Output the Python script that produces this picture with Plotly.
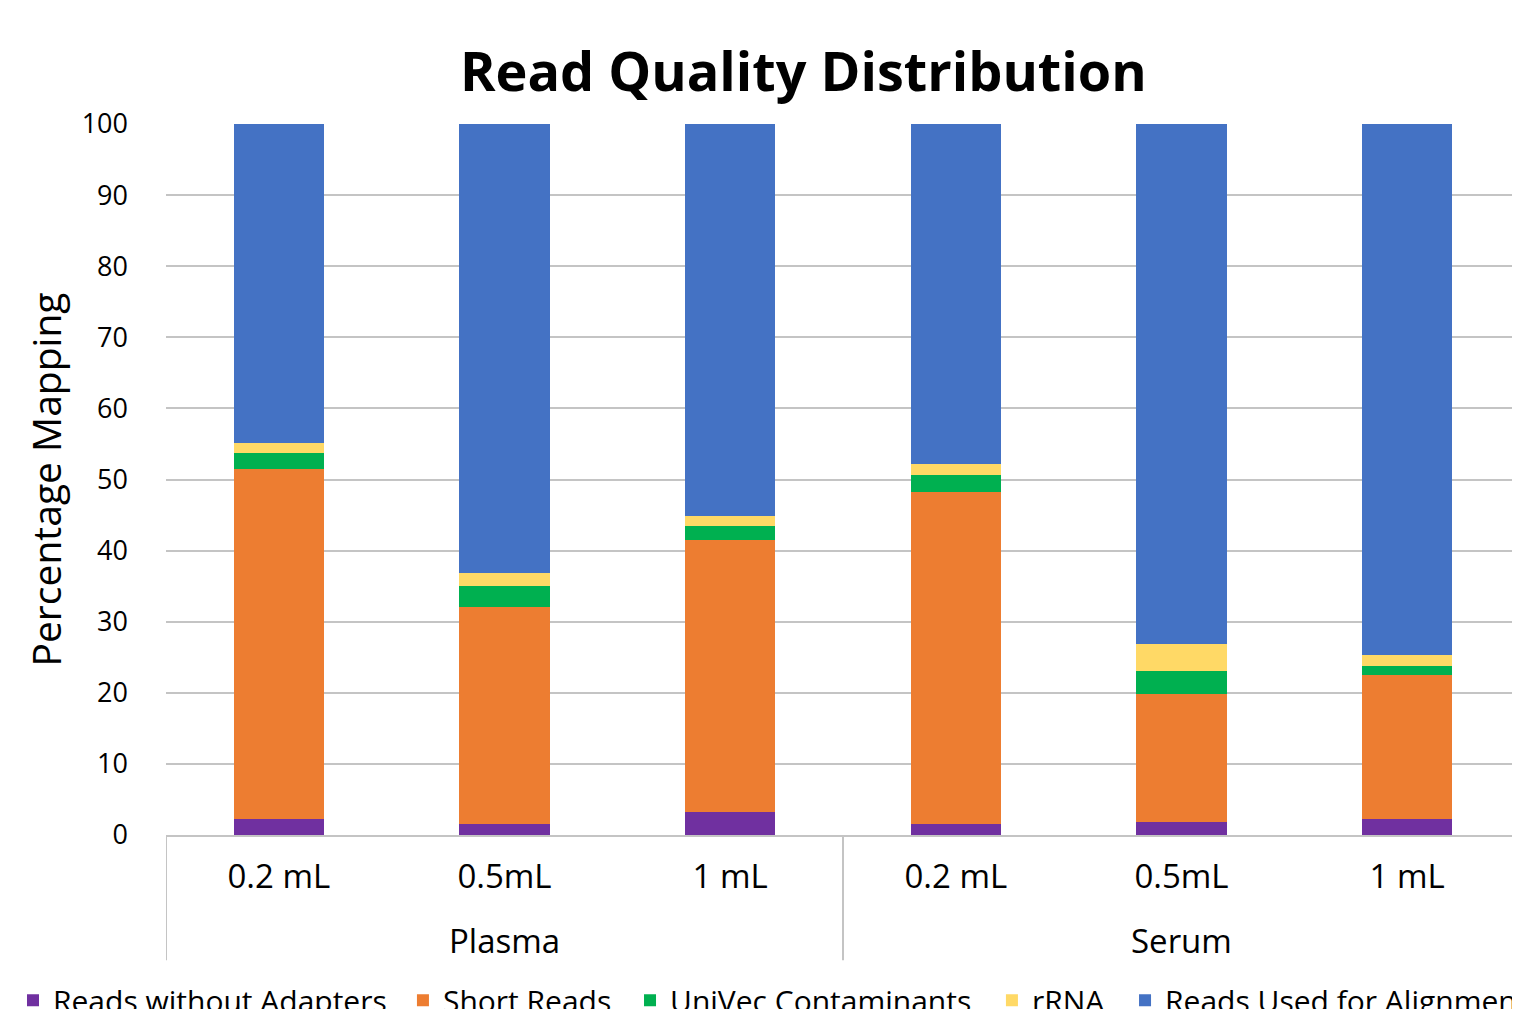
import plotly.graph_objects as go

groups = ["Plasma", "Plasma", "Plasma", "Serum", "Serum", "Serum"]
volumes = ["0.2 mL", "0.5mL", "1 mL", "0.2 mL", "0.5mL", "1 mL"]

reads_without_adapters = [2.2, 1.6, 3.3, 1.6, 1.8, 2.2]
short_reads = [49.3, 30.5, 38.2, 46.7, 18.1, 20.3]
univec_contaminants = [2.2, 2.9, 1.9, 2.4, 3.1, 1.3]
rrna = [1.5, 1.85, 1.4, 1.5, 3.9, 1.5]
reads_used_for_alignment = [44.8, 63.15, 55.2, 47.8, 73.1, 74.7]

series_names = ["Reads without Adapters", "Short Reads", "UniVec Contaminants",
                "rRNA", "Reads Used for Alignment"]
series_values = [reads_without_adapters, short_reads, univec_contaminants,
                 rrna, reads_used_for_alignment]
series_colors = ["#7030A0", "#ED7D31", "#00B050", "#FFD966", "#4472C4"]
legend_x = [-0.113, 0.175, 0.3427, 0.61, 0.7083]

FONT = "Open Sans"
GRID = "#c4c4c4"

x_idx = list(range(len(volumes)))

fig = go.Figure()
legend_layout = {}
for i, (name, vals, color) in enumerate(zip(series_names, series_values, series_colors)):
    lid = "legend" if i == 0 else f"legend{i + 1}"
    fig.add_trace(go.Bar(
        x=x_idx, y=vals, name=name, legend=lid,
        marker=dict(color=color, line=dict(width=0)),
    ))
    legend_layout[lid] = dict(orientation="h", x=legend_x[i], xanchor="left",
                              y=-0.196, yanchor="top", bgcolor="rgba(0,0,0,0)",
                              font=dict(family=FONT, size=30), itemwidth=30)

fig.update_layout(
    barmode="stack",
    bargap=0.6,
    width=1512, height=1001,
    margin=dict(l=158, r=0, t=116, b=174, autoexpand=False),
    paper_bgcolor="white", plot_bgcolor="white",
    font=dict(family=FONT, color="#000000"),
    title=dict(text="<b>Read Quality Distribution</b>", x=0.526, xanchor="center",
               y=0.936, yanchor="middle",
               font=dict(family=FONT, size=54, color="#000000")),
    showlegend=True,
    **legend_layout,
)

# group labels and dividers of the two-level category axis
bounds = [-0.5]
for i in range(1, len(groups)):
    if groups[i] != groups[i - 1]:
        bounds.append(i - 0.5)
bounds.append(len(groups) - 0.5)
for b in bounds:
    fig.add_shape(type="line", xref="x", yref="paper", x0=b, x1=b, y0=0, y1=-0.176,
                  line=dict(color=GRID, width=2), layer="below")
for k in range(len(bounds) - 1):
    g = groups[int(bounds[k] + 0.5)]
    fig.add_annotation(x=(bounds[k] + bounds[k + 1]) / 2, xref="x", y=-0.1477, yref="paper",
                       text=g, showarrow=False, xanchor="center", yanchor="middle",
                       font=dict(family=FONT, size=33, color="#000000"))

fig.update_yaxes(
    range=[0, 100], dtick=10, showgrid=True, gridcolor=GRID, gridwidth=2,
    zeroline=False, tickfont=dict(family=FONT, size=27), ticklabelstandoff=37,
    title=dict(text="Percentage Mapping", font=dict(family=FONT, size=39), standoff=8),
    showline=False,
)
fig.update_xaxes(
    range=[-0.5, len(volumes) - 0.5], tickvals=x_idx, ticktext=volumes,
    tickfont=dict(family=FONT, size=33), showline=True, linecolor=GRID, linewidth=2,
    ticklabelstandoff=11, showgrid=False, zeroline=False,
)

fig.write_html("out.html")
